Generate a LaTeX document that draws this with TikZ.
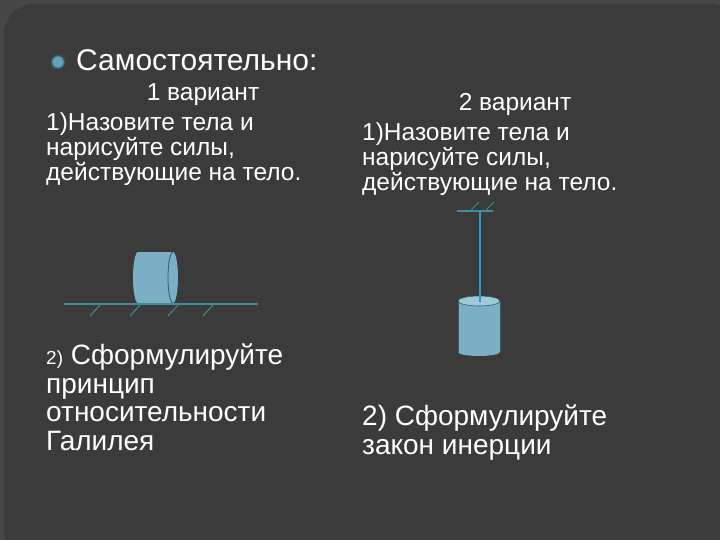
\documentclass[tikz,border=0pt]{standalone}
\usepackage{fontspec}
\setmainfont{Liberation Sans}
\begin{document}
\begin{tikzpicture}[x=1pt,y=-1pt,
  txt/.style={text=white,anchor=base west,inner sep=0,font=\fontsize{24.5}{28}\selectfont},
  big/.style={text=white,anchor=base west,inner sep=0,font=\fontsize{28}{32}\selectfont}]
\definecolor{bgc}{HTML}{474747}
\definecolor{pan}{HTML}{3B3B3B}
\definecolor{cylc}{HTML}{7AAFC4}
\definecolor{gl}{HTML}{3E8A9E}
\definecolor{edge}{HTML}{2E5E6E}
\useasboundingbox (0,0) rectangle (720,540);
\fill[bgc] (0,0) rectangle (720,540);
\begin{scope}
\clip (0,0) rectangle (720,540);
\fill[pan,rounded corners=30pt] (4,4) rectangle (740,560);
\end{scope}
% bullet
\node[circle,fill=gl!80!white,draw=edge,line width=1.5pt,minimum size=13pt,inner sep=0] (bul) at (58,62) {};
\node[text=white,anchor=base west,inner sep=0,font=\fontsize{30}{34}\selectfont] (title) at (76,71) {Самостоятельно:};
\node[txt,anchor=base] (v1) at (203,101) {1 вариант};
\node[txt] (l1) at (46,131) {1)Назовите тела и};
\node[txt] (l2) at (46,156) {нарисуйте силы,};
\node[txt] (l3) at (46,181) {действующие на тело.};
\node[txt,anchor=base] (v2) at (515,111) {2 вариант};
\node[txt] (r1) at (362,141) {1)Назовите тела и};
\node[txt] (r2) at (362,166) {нарисуйте силы,};
\node[txt] (r3) at (362,191) {действующие на тело.};
% left figure
\fill[cylc] (138,252) rectangle (173,303);
\fill[cylc] (138,277.5) ellipse [x radius=5pt,y radius=25.5pt];
\fill[cylc] (173,277.5) ellipse [x radius=5pt,y radius=25.5pt];
\draw[edge,line width=0.8pt] (173,252) arc[start angle=90,end angle=270,x radius=5pt,y radius=25.5pt];
\draw[gl,line width=1.2pt] (64,304) coordinate (g1) -- (258,304) coordinate (g2);
\foreach \x in {100,140,178,213} \draw[gl,line width=1pt] (\x,305) -- (\x-10,316);
% right figure
\draw[gl,line width=1.2pt] (457,211) coordinate (c1) -- (493,211) coordinate (c2);
\foreach \x in {471,486} \draw[gl,line width=1pt] (\x,210) -- (\x+8,202);
\fill[cylc] (458,301) rectangle (500,352);
\fill[cylc] (479,352) ellipse [x radius=21pt,y radius=4pt];
\fill[cylc!70!white,draw=edge,line width=0.6pt] (479,301) ellipse [x radius=21pt,y radius=5pt];
\draw[edge,line width=0.6pt] (458,301) -- (458,352) (500,301) -- (500,352);
\draw[cyan!60!teal,line width=1.2pt] (480,211) coordinate (s1) -- (480,302) coordinate (s2);
% bottom text
\node[big] (b1) at (46,364) {{\fontsize{19}{22}\selectfont 2)} Сформулируйте};
\node[big] (b2) at (46,393) {принцип};
\node[big] (b3) at (46,421) {относительности};
\node[big] (b4) at (46,450) {Галилея};
\node[big] (rb1) at (362,425) {2) Сформулируйте};
\node[big] (rb2) at (362,454) {закон инерции};
\end{tikzpicture}
\end{document}
